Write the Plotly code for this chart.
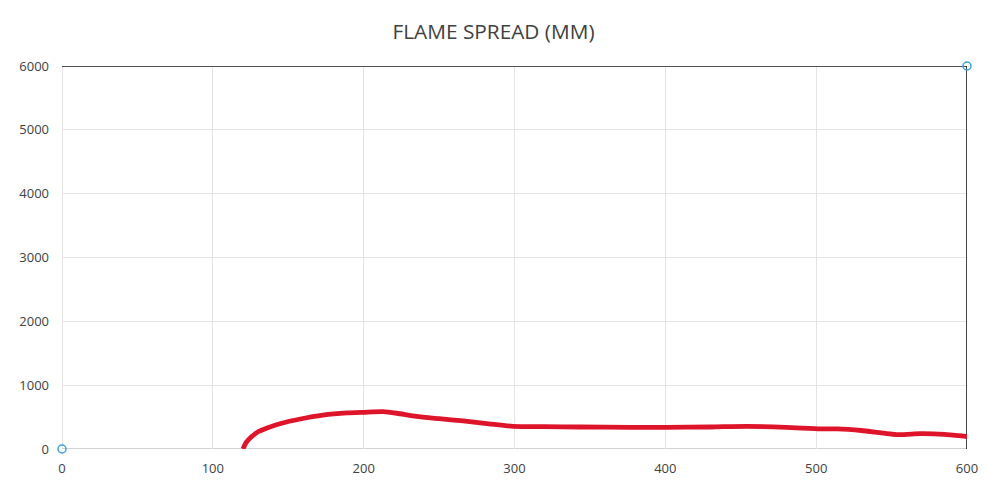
import plotly.graph_objects as go

title_text = "FLAME SPREAD (MM)"

# Flame spread series (time, mm)
spread_x = [120, 122, 126, 130, 136, 145, 158, 173, 189, 200, 213, 222, 235, 250, 266, 283, 299,
            320, 343, 377, 400, 430, 454, 480, 503, 514, 530, 554, 569, 585, 598, 600]
spread_y = [0, 100, 200, 270, 330, 400, 470, 530, 565, 575, 585, 560, 510, 475, 440, 395, 355,
            350, 345, 340, 340, 345, 355, 340, 315, 315, 290, 225, 240, 230, 200, 195]

# Boundary series (black frame line)
frame_x = [0, 600, 600]
frame_y = [6000, 6000, 0]

# Marker points (blue hollow circles)
marker_x = [0, 600]
marker_y = [0, 6000]

x_ticks = [0, 100, 200, 300, 400, 500, 600]
y_ticks = [0, 1000, 2000, 3000, 4000, 5000, 6000]

fig = go.Figure()
fig.add_trace(go.Scatter(x=frame_x, y=frame_y, mode="lines",
                         line=dict(color="#1a1a1a", width=1.6), showlegend=False, hoverinfo="skip"))
fig.add_trace(go.Scatter(x=spread_x, y=spread_y, mode="lines",
                         line=dict(color="rgb(222,20,42)", width=4.8, shape="spline", smoothing=0.6),
                         showlegend=False))
fig.add_trace(go.Scatter(x=marker_x, y=marker_y, mode="markers",
                         marker=dict(symbol="circle-open", size=8, color="#3aa0d8", line=dict(width=1.5)),
                         showlegend=False, cliponaxis=False))

fig.update_layout(
    width=971, height=469,
    margin=dict(l=54, r=12, t=58, b=28, autoexpand=False),
    paper_bgcolor="white", plot_bgcolor="white",
    font=dict(family="Open Sans, Liberation Sans, sans-serif", color="#404040"),
    title=dict(text=title_text, x=0.5, xanchor="center", y=1 - 24 / 469, yanchor="middle",
               font=dict(size=20.8, color="#404040")),
)
fig.update_xaxes(range=[0, 600], tickvals=x_ticks, ticktext=[str(v) for v in x_ticks],
                 showgrid=True, gridcolor="#e4e4e4", gridwidth=1, zeroline=False, automargin=False,
                 showline=False, ticks="", ticklabelstandoff=10, tickfont=dict(size=13, color="#404040"))
fig.update_yaxes(range=[0, 6000], tickvals=y_ticks, ticktext=[str(v) for v in y_ticks],
                 showgrid=True, gridcolor="#e4e4e4", gridwidth=1, zeroline=False, automargin=False,
                 showline=False, ticks="", ticklabelstandoff=12, tickfont=dict(size=13, color="#404040"))
# axis baselines via shapes referencing axes
fig.add_shape(type="line", xref="x", yref="y", x0=0, x1=600, y0=0, y1=0,
              line=dict(color="#a6a6a6", width=1.2), layer="below")
fig.add_shape(type="line", xref="x", yref="y", x0=0, x1=0, y0=0, y1=6000,
              line=dict(color="#c8c8c8", width=1), layer="below")

fig.write_html("out.html")
